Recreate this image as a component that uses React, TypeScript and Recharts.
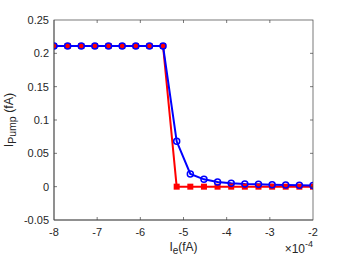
import React from 'react';
import { ComposedChart, Line, XAxis, YAxis } from 'recharts';

// x in units of 10^-4 fA
const xValues = [-8, -7.684, -7.368, -7.053, -6.737, -6.421, -6.105, -5.789, -5.474, -5.158,
  -4.842, -4.526, -4.211, -3.895, -3.579, -3.263, -2.947, -2.632, -2.316, -2];
const redValues = [0.211, 0.211, 0.211, 0.211, 0.211, 0.211, 0.211, 0.211, 0.211, 0,
  0, 0, 0, 0, 0, 0, 0, 0, 0, 0];
const blueValues = [0.211, 0.211, 0.211, 0.211, 0.211, 0.211, 0.211, 0.211, 0.211, 0.068,
  0.019, 0.011, 0.007, 0.005, 0.004, 0.0035, 0.003, 0.0025, 0.002, 0.0018];
const xTicks = [-8, -7, -6, -5, -4, -3, -2];
const yTicks = [-0.05, 0, 0.05, 0.1, 0.15, 0.2, 0.25];
const xDomain = [-8, -2];
const yDomain = [-0.05, 0.25];

const data = xValues.map((x, i) => ({ x, red: redValues[i], blue: blueValues[i] }));

const W = 346;
const H = 260;
const MARGIN = { top: 20, right: 33, bottom: 0, left: 0 };
const Y_AXIS_W = 54;
const X_AXIS_H = 40;
const PLOT = {
  left: MARGIN.left + Y_AXIS_W,
  top: MARGIN.top,
  right: W - MARGIN.right,
  bottom: H - MARGIN.bottom - X_AXIS_H,
};
const FONT = '"Liberation Sans", Arial, Helvetica, sans-serif';
const AXIS = '#262626';
const FRAME = '#404040';
const TL = 3;
const SW = 0.7;

const fmtY = (v: number) => {
  if (v === 0) return '0';
  return String(Number(v.toFixed(2)));
};

const BottomTick = (p: any) => (
  <text x={p.x} y={p.y + 16} textAnchor="middle" fontSize={11} fill={AXIS} fontFamily={FONT}>
    {p.payload.value}
  </text>
);
const LeftTick = (p: any) => (
  <text x={p.x - 5} y={p.y + 4} textAnchor="end" fontSize={11} fill={AXIS} fontFamily={FONT}>
    {fmtY(p.payload.value)}
  </text>
);

const XLabel = (props: any) => {
  const vb = props.viewBox || { x: 54, y: 220, width: 259, height: 40 };
  const cx = vb.x + vb.width / 2;
  const right = vb.x + vb.width;
  return (
    <g fontFamily={FONT} fill={AXIS}>
      <text x={cx} y={vb.y + 31} textAnchor="middle" fontSize={12}>
        I<tspan fontSize={10} dy={3}>e</tspan><tspan dy={-3}>(fA)</tspan>
      </text>
      <text x={right} y={vb.y + 33} textAnchor="end" fontSize={12}>
        ×10<tspan fontSize={9} dy={-6}>-4</tspan>
      </text>
    </g>
  );
};

const YLabel = (props: any) => {
  const vb = props.viewBox || { x: 0, y: 20, width: 54, height: 200 };
  const cy = vb.y + vb.height / 2;
  const bx = 13;
  return (
    <text
      x={bx}
      y={cy}
      transform={`rotate(-90, ${bx}, ${cy})`}
      textAnchor="middle"
      fontSize={12.5}
      fill={AXIS}
      fontFamily={FONT}
    >
      I<tspan fontSize={10.5} dy={3}>Pump</tspan><tspan dy={-3}> (fA)</tspan>
    </text>
  );
};

const SquareDot = (p: any) => {
  if (p.cx == null || p.cy == null) return <g key={p.index} />;
  return <rect key={p.index} x={p.cx - 3} y={p.cy - 3} width={6} height={6} fill="#ff0000" />;
};

// box frame with inward ticks on all four sides (MATLAB style), overlaid on the chart
const Frame = () => {
  const pw = PLOT.right - PLOT.left;
  const ph = PLOT.bottom - PLOT.top;
  const px = (t: number) => PLOT.left + ((t - xDomain[0]) / (xDomain[1] - xDomain[0])) * pw;
  const py = (t: number) => PLOT.bottom - ((t - yDomain[0]) / (yDomain[1] - yDomain[0])) * ph;
  return (
    <svg
      width={W}
      height={H}
      style={{ position: 'absolute', left: 0, top: 0, pointerEvents: 'none' }}
    >
      <rect x={PLOT.left} y={PLOT.top} width={pw} height={ph} fill="none" stroke={FRAME} strokeWidth={SW} />
      {xTicks.slice(1, -1).map((t) => (
        <g key={`xt${t}`}>
          <line x1={px(t)} y1={PLOT.bottom} x2={px(t)} y2={PLOT.bottom - TL} stroke={FRAME} strokeWidth={SW} />
          <line x1={px(t)} y1={PLOT.top} x2={px(t)} y2={PLOT.top + TL} stroke={FRAME} strokeWidth={SW} />
        </g>
      ))}
      {yTicks.slice(1, -1).map((t) => (
        <g key={`yt${t}`}>
          <line x1={PLOT.left} y1={py(t)} x2={PLOT.left + TL} y2={py(t)} stroke={FRAME} strokeWidth={SW} />
          <line x1={PLOT.right} y1={py(t)} x2={PLOT.right - TL} y2={py(t)} stroke={FRAME} strokeWidth={SW} />
        </g>
      ))}
    </svg>
  );
};

export default function App() {
  return (
    <div style={{ position: 'absolute', left: 0, top: 0, width: W, height: H, background: '#fff' }}>
      <ComposedChart width={W} height={H} data={data} margin={MARGIN}>
        <XAxis
          dataKey="x"
          type="number"
          domain={xDomain}
          ticks={xTicks}
          allowDataOverflow
          height={X_AXIS_H}
          tickSize={0}
          tickMargin={0}
          tickLine={false}
          axisLine={{ stroke: FRAME, strokeWidth: SW }}
          tick={BottomTick}
          interval={0}
          label={<XLabel />}
        />
        <YAxis
          type="number"
          domain={yDomain}
          ticks={yTicks}
          allowDataOverflow
          width={Y_AXIS_W}
          tickSize={0}
          tickMargin={0}
          tickLine={false}
          axisLine={{ stroke: FRAME, strokeWidth: SW }}
          tick={LeftTick}
          interval={0}
          label={<YLabel />}
        />
        <Line
          dataKey="red"
          stroke="#ff0000"
          strokeWidth={2}
          dot={SquareDot}
          activeDot={false}
          isAnimationActive={false}
        />
        <Line
          dataKey="blue"
          stroke="#0000ff"
          strokeWidth={2}
          dot={{ r: 3, fill: 'none', stroke: '#0000ff', strokeWidth: 1.5 }}
          activeDot={false}
          isAnimationActive={false}
        />
      </ComposedChart>
      <Frame />
    </div>
  );
}
